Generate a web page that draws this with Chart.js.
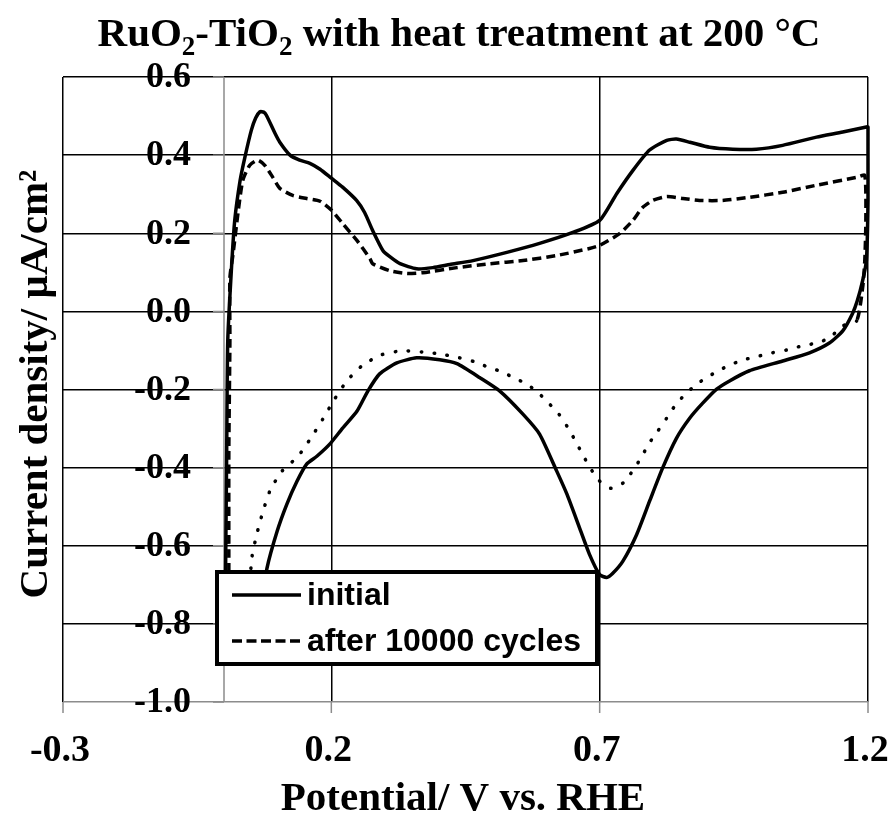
<!DOCTYPE html>
<html lang="en">
<head>
<meta charset="UTF-8">
<title>RuO2-TiO2 CV</title>
<script src="https://cdn.jsdelivr.net/npm/chart.js"></script>
<style>
    body { margin: 0; background: #fff; }
    .wrap { width: 894px; height: 818px; position: relative; }
</style>
</head>
<body>
<div class="wrap"><canvas id="cv"></canvas></div>
<script>
// potential (V vs RHE) and current density for the first scan
const initialV = [0.002, 0.003, 0.005, 0.007, 0.014, 0.020, 0.030, 0.039, 0.051, 0.059, 0.067, 0.074, 0.079, 0.095, 0.104,
    0.123, 0.141, 0.160, 0.179, 0.200, 0.221, 0.247, 0.262, 0.277, 0.296, 0.309, 0.328, 0.359, 0.389, 0.421, 0.464,
    0.527, 0.588, 0.650, 0.700, 0.732, 0.762, 0.793, 0.825, 0.843, 0.868, 0.905, 0.948, 0.992, 1.041, 1.104, 1.153,
    1.197, 1.200, 1.200, 1.197, 1.190, 1.180, 1.171, 1.153, 1.128, 1.091, 1.041, 0.979, 0.942, 0.918, 0.892, 0.868,
    0.843, 0.817, 0.793, 0.769, 0.743, 0.724, 0.713, 0.700, 0.681, 0.663, 0.639, 0.620, 0.588, 0.557, 0.514, 0.477,
    0.434, 0.402, 0.359, 0.322, 0.290, 0.268, 0.248, 0.221, 0.197, 0.173, 0.154, 0.136, 0.117, 0.099, 0.080, 0.071,
    0.048, 0.022, 0.005, 0.002];
const initialJ = [-0.794, -0.658, -0.358, -0.075, 0.112, 0.233, 0.335, 0.395, 0.464, 0.495, 0.511, 0.510, 0.502, 0.456, 0.433,
    0.400, 0.387, 0.379, 0.364, 0.341, 0.318, 0.284, 0.253, 0.207, 0.156, 0.140, 0.122, 0.109, 0.112, 0.120, 0.130,
    0.151, 0.174, 0.202, 0.233, 0.302, 0.361, 0.413, 0.438, 0.441, 0.433, 0.420, 0.415, 0.415, 0.425, 0.446, 0.459,
    0.472, 0.472, 0.284, 0.130, 0.079, 0.027, -0.006, -0.050, -0.081, -0.106, -0.127, -0.152, -0.178, -0.199, -0.235, -0.273,
    -0.325, -0.402, -0.486, -0.571, -0.640, -0.671, -0.681, -0.674, -0.622, -0.556, -0.468, -0.409, -0.314, -0.263, -0.204, -0.170,
    -0.134, -0.124, -0.119, -0.132, -0.160, -0.204, -0.255, -0.299, -0.340, -0.371, -0.391, -0.435, -0.494, -0.563, -0.658, -0.743,
    -0.846, -0.872, -0.846, -0.794];

// same electrode after 10000 cycles
const cycledV = [0.009, 0.009, 0.009, 0.011, 0.011, 0.017, 0.026, 0.035, 0.048, 0.063, 0.076, 0.091, 0.104, 0.128, 0.154,
    0.179, 0.201, 0.221, 0.248, 0.272, 0.277, 0.309, 0.341, 0.370, 0.434, 0.495, 0.557, 0.620, 0.681, 0.700, 0.737,
    0.762, 0.780, 0.799, 0.825, 0.855, 0.886, 0.929, 0.979, 1.041, 1.104, 1.179, 1.194, 1.196, 1.194, 1.190, 1.179,
    1.153, 1.128, 1.104, 1.078, 1.048, 1.022, 0.998, 0.974, 0.948, 0.924, 0.901, 0.879, 0.858, 0.840, 0.825, 0.808,
    0.791, 0.778, 0.762, 0.745, 0.721, 0.698, 0.683, 0.668, 0.655, 0.640, 0.624, 0.605, 0.586, 0.564, 0.540, 0.518,
    0.491, 0.467, 0.439, 0.402, 0.369, 0.331, 0.294, 0.259, 0.229, 0.205, 0.184, 0.162, 0.138, 0.108, 0.086, 0.072,
    0.061, 0.052, 0.045, 0.030, 0.015, 0.009];
const cycledJ = [-0.846, -0.658, -0.358, -0.075, 0.086, 0.148, 0.251, 0.335, 0.374, 0.387, 0.374, 0.343, 0.315, 0.297, 0.289,
    0.282, 0.258, 0.225, 0.181, 0.135, 0.122, 0.104, 0.097, 0.099, 0.112, 0.122, 0.130, 0.143, 0.161, 0.169, 0.199,
    0.233, 0.266, 0.284, 0.294, 0.289, 0.284, 0.284, 0.292, 0.305, 0.323, 0.343, 0.348, 0.233, 0.130, 0.061, -0.024,
    -0.037, -0.068, -0.081, -0.088, -0.099, -0.106, -0.114, -0.122, -0.134, -0.150, -0.168, -0.188, -0.214, -0.242, -0.273, -0.307,
    -0.340, -0.373, -0.407, -0.438, -0.453, -0.432, -0.402, -0.366, -0.332, -0.296, -0.263, -0.235, -0.209, -0.186, -0.170, -0.155,
    -0.142, -0.129, -0.119, -0.109, -0.104, -0.101, -0.111, -0.137, -0.178, -0.227, -0.276, -0.324, -0.371, -0.409, -0.458, -0.515,
    -0.571, -0.630, -0.743, -0.846, -0.859, -0.846];

const seriesNames = ['initial', 'after 10000 cycles'];
const xTicks = [-0.3, 0.2, 0.7, 1.2];
const yTicks = [0.6, 0.4, 0.2, 0.0, -0.2, -0.4, -0.6, -0.8, -1.0];

const toPoints = (xs, ys) => xs.map((v, i) => ({ x: v, y: ys[i] }));

// return sweep of the cycled curve is drawn dotted, forward sweep dashed
const turn = cycledV.indexOf(Math.max(...cycledV));
const isReturn = (c) => c.p0DataIndex >= turn && c.p0.parsed.y < 0;

const SERIF = '"Liberation Serif", "Times New Roman", serif';

function richText(ctx, parts, cx, base, size) {
    const sub = Math.round(size * 0.65);
    let w = 0;
    parts.forEach(p => {
        ctx.font = 'bold ' + (p[1] ? sub : size) + 'px ' + SERIF;
        w += ctx.measureText(p[0]).width;
    });
    let x = cx - w / 2;
    ctx.textAlign = 'left';
    ctx.textBaseline = 'alphabetic';
    parts.forEach(p => {
        ctx.font = 'bold ' + (p[1] ? sub : size) + 'px ' + SERIF;
        ctx.fillText(p[0], x, base + (p[1] ? size * 0.22 : 0));
        x += ctx.measureText(p[0]).width;
    });
}

const decor = {
    id: 'decor',
    beforeDatasetsDraw(chart) {
        const { ctx, chartArea: a, scales: { x, y } } = chart;
        const ax = x.getPixelForValue(0);
        ctx.save();
        ctx.strokeStyle = '#8c8c8c';
        ctx.lineWidth = 1.5;
        ctx.beginPath();
        ctx.moveTo(ax, a.top);
        ctx.lineTo(ax, a.bottom);
        yTicks.forEach(v => {
            const py = y.getPixelForValue(v);
            ctx.moveTo(ax - 11, py);
            ctx.lineTo(ax, py);
        });
        xTicks.forEach(v => {
            const px = x.getPixelForValue(v);
            ctx.moveTo(px, a.bottom);
            ctx.lineTo(px, a.bottom + 11);
        });
        ctx.stroke();
        ctx.restore();
    },
    afterDatasetsDraw(chart) {
        // legend box sits over the curves
        const { ctx } = chart;
        const ds = chart.data.datasets;
        ctx.save();
        ctx.fillStyle = '#fff';
        ctx.fillRect(217, 572, 380, 92);
        ctx.strokeStyle = '#000';
        ctx.lineWidth = 4;
        ctx.strokeRect(217, 572, 380, 92);
        const rows = [595, 641];
        ds.forEach((d, i) => {
            ctx.lineWidth = 3.5;
            ctx.setLineDash(i === 0 ? [] : [10, 4.5]);
            ctx.beginPath();
            ctx.moveTo(232, rows[i]);
            ctx.lineTo(301, rows[i]);
            ctx.stroke();
            ctx.setLineDash([]);
            ctx.fillStyle = '#000';
            ctx.font = 'bold 32px "Liberation Sans", Arial, sans-serif';
            ctx.textAlign = 'left';
            ctx.textBaseline = 'middle';
            ctx.fillText(d.label, 307, rows[i] + 1);
        });
        ctx.restore();
    },
    afterDraw(chart) {
        const { ctx, chartArea: a, scales: { x, y } } = chart;
        const ax = x.getPixelForValue(0);
        ctx.save();
        ctx.fillStyle = '#000';

        // y tick labels, placed left of the vertical axis inside the plot
        ctx.font = 'bold 36px ' + SERIF;
        ctx.textAlign = 'right';
        ctx.textBaseline = 'middle';
        yTicks.forEach(v => ctx.fillText(v.toFixed(1), ax - 33, y.getPixelForValue(v) + 1));

        // x tick labels
        ctx.font = 'bold 38px ' + SERIF;
        ctx.textAlign = 'center';
        ctx.textBaseline = 'alphabetic';
        xTicks.forEach(v => ctx.fillText(v.toFixed(1), x.getPixelForValue(v) - 3, 761));

        // chart title with subscripts
        richText(ctx, [['RuO', 0], ['2', 1], ['-TiO', 0], ['2', 1], [' with heat treatment at 200 \u00B0C', 0]], 459, 46, 41);

        // axis titles
        ctx.font = 'bold 41px ' + SERIF;
        ctx.textAlign = 'center';
        ctx.textBaseline = 'alphabetic';
        ctx.fillText('Potential/ V vs. RHE', 463, 810);

        ctx.translate(36, 384);
        ctx.rotate(-Math.PI / 2);
        ctx.textBaseline = 'middle';
        ctx.fillText('Current density/ \u03BCA/cm\u00B2', 0, 0);
        ctx.restore();
    }
};

new Chart(document.getElementById('cv'), {
    type: 'scatter',
    data: {
        datasets: [
            {
                label: seriesNames[0],
                data: toPoints(initialV, initialJ),
                showLine: true,
                borderColor: '#000',
                borderWidth: 3.5,
                pointRadius: 0,
                tension: 0.2,
                clip: 4
            },
            {
                label: seriesNames[1],
                data: toPoints(cycledV, cycledJ),
                showLine: true,
                borderColor: '#000',
                borderWidth: 3.5,
                borderDash: [9, 5],
                pointRadius: 0,
                tension: 0.2,
                clip: 4,
                segment: {
                    borderDash: c => isReturn(c) ? [0.5, 12.5] : [9, 5],
                    borderCapStyle: c => isReturn(c) ? 'round' : 'butt'
                }
            }
        ]
    },
    options: {
        responsive: true,
        maintainAspectRatio: false,
        animation: false,
        events: [],
        layout: { padding: { left: 63, right: 26, top: 77, bottom: 116 } },
        plugins: {
            legend: { display: false },
            tooltip: { enabled: false },
            title: { display: false }
        },
        scales: {
            x: {
                type: 'linear',
                min: -0.3,
                max: 1.2,
                afterBuildTicks: s => { s.ticks = xTicks.map(v => ({ value: v })); },
                afterFit: s => { s.height = 0; },
                ticks: { display: false },
                border: { display: false },
                grid: { color: '#000', lineWidth: 1.5, drawTicks: false }
            },
            y: {
                type: 'linear',
                min: -1.0,
                max: 0.6,
                afterBuildTicks: s => { s.ticks = yTicks.map(v => ({ value: v })); },
                afterFit: s => { s.width = 0; },
                ticks: { display: false },
                border: { display: false },
                grid: {
                    color: c => (c.tick && c.tick.value === -1.0) ? '#8c8c8c' : '#000',
                    lineWidth: 1.5,
                    drawTicks: false
                }
            }
        }
    },
    plugins: [decor]
});
</script>
</body>
</html>
